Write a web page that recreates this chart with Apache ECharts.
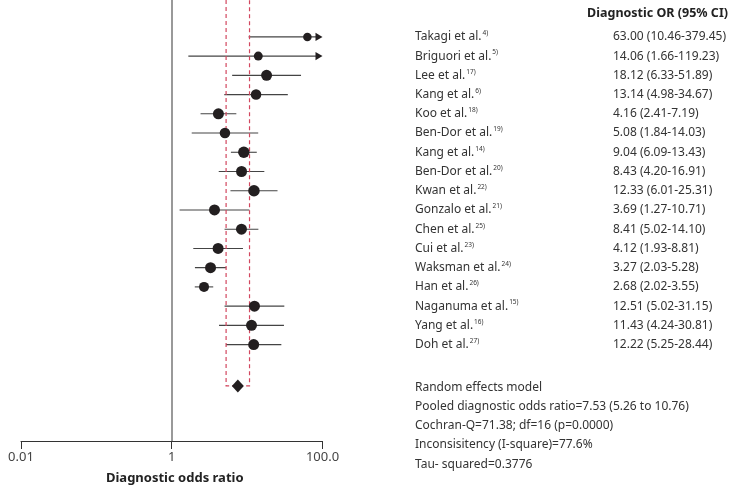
<!DOCTYPE html>
<html><head><meta charset="utf-8">
<script src="https://cdn.jsdelivr.net/npm/echarts@6/dist/echarts.min.js"></script>
<style>html,body{margin:0;padding:0;background:#fff}#c{width:734px;height:490px}</style>
</head><body><div id="c"></div>
<script>
// ---------- data ----------
const studies = ['Takagi et al.', 'Briguori et al.', 'Lee et al.', 'Kang et al.', 'Koo et al.', 'Ben-Dor et al.', 'Kang et al.', 'Ben-Dor et al.', 'Kwan et al.', 'Gonzalo et al.', 'Chen et al.', 'Cui et al.', 'Waksman et al.', 'Han et al.', 'Naganuma et al.', 'Yang et al.', 'Doh et al.'];
const refs = ['4)', '5)', '17)', '6)', '18)', '19)', '14)', '20)', '22)', '21)', '25)', '23)', '24)', '26)', '15)', '16)', '27)'];
const oddsRatio = [63.00, 14.06, 18.12, 13.14, 4.16, 5.08, 9.04, 8.43, 12.33, 3.69, 8.41, 4.12, 3.27, 2.68, 12.51, 11.43, 12.22];
const ciLower = [10.46, 1.66, 6.33, 4.98, 2.41, 1.84, 6.09, 4.20, 6.01, 1.27, 5.02, 1.93, 2.03, 2.02, 5.02, 4.24, 5.25];
const ciUpper = [379.45, 119.23, 51.89, 34.67, 7.19, 14.03, 13.43, 16.91, 25.31, 10.71, 14.10, 8.81, 5.28, 3.55, 31.15, 30.81, 28.44];
const pooledOR = 7.53;
const pooledLower = 5.26;
const pooledUpper = 10.76;
const headerText = 'Diagnostic OR (95% CI)';
const summaryLines = [
  'Random effects model',
  'Pooled diagnostic odds ratio=7.53 (5.26 to 10.76)',
  'Cochran-Q=71.38; df=16 (p=0.0000)',
  'Inconsisitency (I-square)=77.6%',
  'Tau- squared=0.3776'
];
const xTickValues = [0.01, 1, 100];
const xTickLabels = ['0.01', '1', '100.0'];
const xAxisName = 'Diagnostic odds ratio';

// ---------- layout / style ----------
const FONT = '"Noto Sans", sans-serif';
const AXIS_Y = 446, GRID_TOP = 0;
const ROW_PX = 19.45, FIRST_ROW_PX = 37.3;
const yMin = -(FIRST_ROW_PX - GRID_TOP) / ROW_PX;
const yMax = yMin + (AXIS_Y - GRID_TOP) / ROW_PX;
const POOLED_ROW = 18.15;
const SUMMARY_ROW0 = 18.22;
const NAME_X = 415, VALUE_X = 613;
const X_MAX = 100;
const markerSize = [8.5, 9, 11, 10.5, 11, 10.5, 11.5, 11, 11.5, 11, 11, 11, 11, 10, 11, 11, 11];
const TEXT_COLOR = '#333';
const DASH_COLOR = '#d2475f';

const valueText = oddsRatio.map((v, i) => v.toFixed(2) + ' (' + ciLower[i].toFixed(2) + '-' + ciUpper[i].toFixed(2) + ')');

const chart = echarts.init(document.getElementById('c'), null, {renderer: 'canvas'});

const option = {
  animation: false,
  backgroundColor: '#fff',
  grid: {left: 21, right: 734 - 322.5, top: GRID_TOP, bottom: 490 - AXIS_Y, containLabel: false},
  xAxis: {
    type: 'log', logBase: 10, min: 0.01, max: 100, interval: 2, splitNumber: 2,
    axisLine: {show: true, onZero: false, lineStyle: {color: '#333', width: 1}},
    axisTick: {show: true, length: 8, lineStyle: {color: '#333', width: 1}},
    splitLine: {show: false},
    minorTick: {show: false},
    axisLabel: {
      margin: 10, color: '#444', fontSize: 13, fontFamily: FONT,
      formatter: function (v) {
        const k = xTickValues.findIndex(t => Math.abs(Math.log10(t) - Math.log10(v)) < 1e-6);
        return k >= 0 ? xTickLabels[k] : '';
      }
    },
    name: xAxisName, nameLocation: 'middle', nameGap: 31,
    nameTextStyle: {color: '#222', fontSize: 13, fontWeight: 'bold', fontFamily: FONT, padding: [0, 0, 0, 6]}
  },
  yAxis: {
    type: 'value', inverse: true, min: yMin, max: yMax, show: false
  },
  graphic: [{
    type: 'text', right: 6, top: 7,
    style: {text: headerText, fill: '#222', font: 'bold 12.5px ' + FONT}
  }],
  series: [
    {
      type: 'custom', name: 'ci', clip: false,
      encode: {x: [0, 1], y: 2},
      data: ciLower.map((lo, i) => [lo, ciUpper[i], i]),
      renderItem: function (params, api) {
        const i = params.dataIndex;
        const lo = api.value(0), hi = api.value(1), row = api.value(2);
        const p0 = api.coord([lo, row]);
        const arrow = hi > X_MAX;
        const p1 = api.coord([arrow ? X_MAX : hi, row]);
        const children = [];
        const lineEnd = arrow ? p1[0] - 5 : p1[0];
        children.push({type: 'line', shape: {x1: p0[0], y1: p0[1], x2: lineEnd, y2: p1[1]},
          style: {stroke: '#444', lineWidth: 1.1}});
        if (arrow) {
          children.push({type: 'polygon', shape: {points: [[p1[0] - 7, p1[1] - 4.2], [p1[0], p1[1]], [p1[0] - 7, p1[1] + 4.2]]},
            style: {fill: '#231f20'}});
        }
        const ty = p0[1];
        children.push({type: 'text', x: NAME_X, y: ty, style: {
          text: '{n|' + studies[i] + '}{s|' + refs[i] + '}',
          rich: {
            n: {fontSize: 12, fontFamily: FONT, fill: TEXT_COLOR, lineHeight: 14},
            s: {fontSize: 6.5, fontFamily: FONT, fill: TEXT_COLOR, verticalAlign: 'top', padding: [0, 0, 0, 1], lineHeight: 14}
          },
          align: 'left', verticalAlign: 'middle'
        }});
        children.push({type: 'text', x: VALUE_X, y: ty, style: {
          text: valueText[i], fill: TEXT_COLOR, font: '12px ' + FONT, align: 'left', verticalAlign: 'middle'
        }});
        return {type: 'group', children: children};
      },
      z: 2
    },
    {
      type: 'scatter', name: 'or',
      data: oddsRatio.map((v, i) => [v, i]),
      symbol: 'circle',
      symbolSize: function (val, params) { return markerSize[params.dataIndex]; },
      itemStyle: {color: '#231f20', opacity: 1},
      z: 3,
      markLine: {
        silent: true, symbol: 'none', label: {show: false},
        lineStyle: {color: '#777', width: 1.5, type: 'solid'},
        data: [{xAxis: 1}]
      }
    },
    {
      type: 'custom', name: 'pooledBox', clip: false,
      encode: {x: [0, 1], y: 2},
      data: [[pooledLower, pooledUpper, POOLED_ROW]],
      renderItem: function (params, api) {
        const lo = api.value(0), hi = api.value(1), row = api.value(2);
        const a = api.coord([lo, yMin]), b = api.coord([lo, row]);
        const c = api.coord([hi, row]), d = api.coord([hi, yMin]);
        return {type: 'polyline', shape: {points: [a, b, c, d]},
          style: {stroke: DASH_COLOR, lineWidth: 1.2, lineDash: [4, 3], fill: null}};
      },
      z: 2
    },
    {
      type: 'scatter', name: 'pooled',
      data: [[pooledOR, POOLED_ROW]],
      symbol: 'diamond', symbolSize: [12, 13],
      itemStyle: {color: '#231f20', opacity: 1},
      z: 4
    },
    {
      type: 'custom', name: 'summary', clip: false,
      encode: {x: 0, y: 1},
      data: summaryLines.map((s, k) => [1, SUMMARY_ROW0 + k]),
      renderItem: function (params, api) {
        const p = api.coord([api.value(0), api.value(1)]);
        return {type: 'text', x: NAME_X, y: p[1], style: {
          text: summaryLines[params.dataIndex], fill: TEXT_COLOR, font: '12px ' + FONT, align: 'left', verticalAlign: 'middle'
        }};
      }
    }
  ]
};
chart.setOption(option);
</script>
</body></html>
